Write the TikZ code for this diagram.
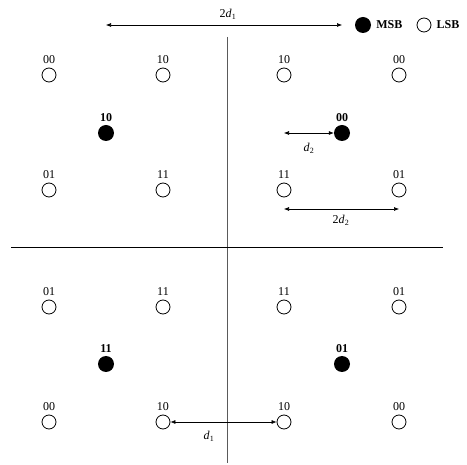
\documentclass[tikz,border=0pt]{standalone}
\usepackage{fontspec}
\setmainfont{Liberation Serif}
\usepackage{tikz}
\usetikzlibrary{arrows.meta,positioning}
\definecolor{axisgray}{RGB}{90,90,90}

\begin{document}
\begin{tikzpicture}[x=1pt,y=-1pt,
    lsb/.style={circle,draw=black,line width=0.8pt,minimum size=14pt,inner sep=0pt},
    msb/.style={circle,fill=black,minimum size=16pt,inner sep=0pt},
    lab/.style={font=\fontsize{12}{13}\selectfont,inner sep=0pt},
    blab/.style={font=\fontsize{12}{13}\selectfont\bfseries,inner sep=0pt},
    dimarrow/.style={line width=0.6pt,{Latex[length=5pt,width=4pt]}-{Latex[length=5pt,width=4pt]}}]
    \useasboundingbox (0,0) rectangle (467,465);
    % axes
    \draw[axisgray,line width=1pt] (227,37) -- (227,463);
    \draw[black,line width=1pt] (11,248) -- (443,248);
    % LSB points
    \foreach \n/\x/\y/\t in {11/49/75/00,12/163/75/10,13/284/75/10,14/399/75/00,
                             21/49/190/01,22/163/190/11,23/284/190/11,24/399/190/01,
                             31/49/307/01,32/163/307/11,33/284/307/11,34/399/307/01,
                             41/49/422/00,42/163/422/10,43/284/422/10,44/399/422/00} {
      \node[lsb] (p\n) at (\x,\y) {};
      \node[lab] (t\n) at (\x,\y-15) {\t};
    }
    % MSB points
    \foreach \n/\x/\y/\t in {1/106/133/10,2/342/133/00,3/106/364/11,4/342/364/01} {
      \node[msb] (m\n) at (\x,\y) {};
      \node[blab] (b\n) at (\x,\y-15) {\t};
    }
    % distances
    \coordinate (s1) at (106,25);
    \coordinate (s2) at (342,25);
    \draw[dimarrow] (s1) -- (s2);
    \node[lab] (d1top) at (228,14) {2\textit{d}\textsubscript{1}};
    \coordinate (s3) at (p23 |- m2);
    \draw[dimarrow] (s3) -- (m2.west);
    \node[lab] (d2lab) at (309,148) {\textit{d}\textsubscript{2}};
    \coordinate (s4) at (284,209);
    \coordinate (s5) at (399,209);
    \draw[dimarrow] (s4) -- (s5);
    \node[lab] (dd2lab) at (341,220) {2\textit{d}\textsubscript{2}};
    \draw[dimarrow] (p42.east) -- (p43.west);
    \node[lab] (d1lab) at (209,436) {\textit{d}\textsubscript{1}};
    % legend
    \node[msb] (legm) at (363,25) {};
    \node[blab,right=5pt of legm] (legmt) {MSB};
    \node[lsb] (legl) at (424,25) {};
    \node[blab,right=5pt of legl] (leglt) {LSB};
\end{tikzpicture}
\end{document}
